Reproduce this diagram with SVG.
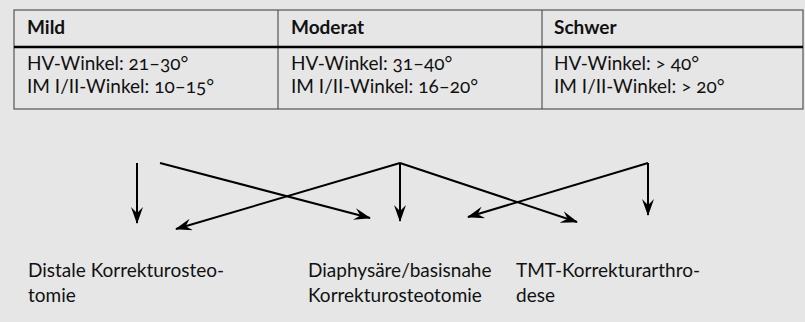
<svg xmlns="http://www.w3.org/2000/svg" width="805" height="322" viewBox="0 0 805 322">
  <defs>
    <style>
      text { font-family: Lato, "Open Sans", sans-serif; fill: #111; font-variant-numeric: oldstyle-nums; }
      .cell { font-size: 19px; }
      .head { font-size: 19px; font-weight: bold; }
      .label { font-size: 19px; }
      .grid { stroke: #555; stroke-width: 1.2; fill: none; }
      .rule { stroke: #000; stroke-width: 2.6; }
      .conn { stroke: #000; stroke-width: 2; fill: none; marker-end: url(#arrow); }
    </style>
    <marker id="arrow" viewBox="0 0 17 12" refX="16" refY="6" markerWidth="17" markerHeight="12" markerUnits="userSpaceOnUse" orient="auto">
      <path d="M0,0 L17,6 L0,12 L6,6 Z" fill="#000"/>
    </marker>
  </defs>

  <rect width="805" height="322" fill="#e6e6e6"/>

  <!-- severity table -->
  <g id="table">
    <rect class="grid" x="14" y="10" width="789" height="99"/>
    <line class="grid" x1="278" y1="10" x2="278" y2="109"/>
    <line class="grid" x1="542" y1="10" x2="542" y2="109"/>
    <line class="rule" x1="14" y1="47" x2="803" y2="47"/>
  </g>

  <g id="mild">
    <text class="head" x="27" y="34">Mild</text>
    <text class="cell"><tspan x="27" y="70">HV-Winkel: 21–30°</tspan><tspan x="27" y="93">IM I/II-Winkel: 10–15°</tspan></text>
  </g>
  <g id="moderat">
    <text class="head" x="291" y="34">Moderat</text>
    <text class="cell"><tspan x="291" y="70">HV-Winkel: 31–40°</tspan><tspan x="291" y="93">IM I/II-Winkel: 16–20°</tspan></text>
  </g>
  <g id="schwer">
    <text class="head" x="554" y="34">Schwer</text>
    <text class="cell"><tspan x="554" y="70">HV-Winkel: &gt; 40°</tspan><tspan x="554" y="93">IM I/II-Winkel: &gt; 20°</tspan></text>
  </g>

  <!-- connectors from severity to procedure -->
  <g id="connectors">
    <line class="conn" x1="137" y1="163" x2="137" y2="223"/>
    <line class="conn" x1="160" y1="163" x2="370" y2="218"/>
    <line class="conn" x1="400" y1="163" x2="176" y2="229"/>
    <line class="conn" x1="400" y1="163" x2="400" y2="221"/>
    <line class="conn" x1="400" y1="163" x2="577" y2="222"/>
    <line class="conn" x1="648" y1="163" x2="468" y2="217"/>
    <line class="conn" x1="648" y1="163" x2="648" y2="215"/>
  </g>

  <g id="distal">
    <text class="label"><tspan x="28" y="277">Distale Korrekturosteo-</tspan><tspan x="28" y="302">tomie</tspan></text>
  </g>
  <g id="diaphysaer">
    <text class="label"><tspan x="308" y="277">Diaphysäre/basisnahe</tspan><tspan x="308" y="302">Korrekturosteotomie</tspan></text>
  </g>
  <g id="tmt">
    <text class="label"><tspan x="516" y="277">TMT-Korrekturarthro-</tspan><tspan x="516" y="302">dese</tspan></text>
  </g>
</svg>
